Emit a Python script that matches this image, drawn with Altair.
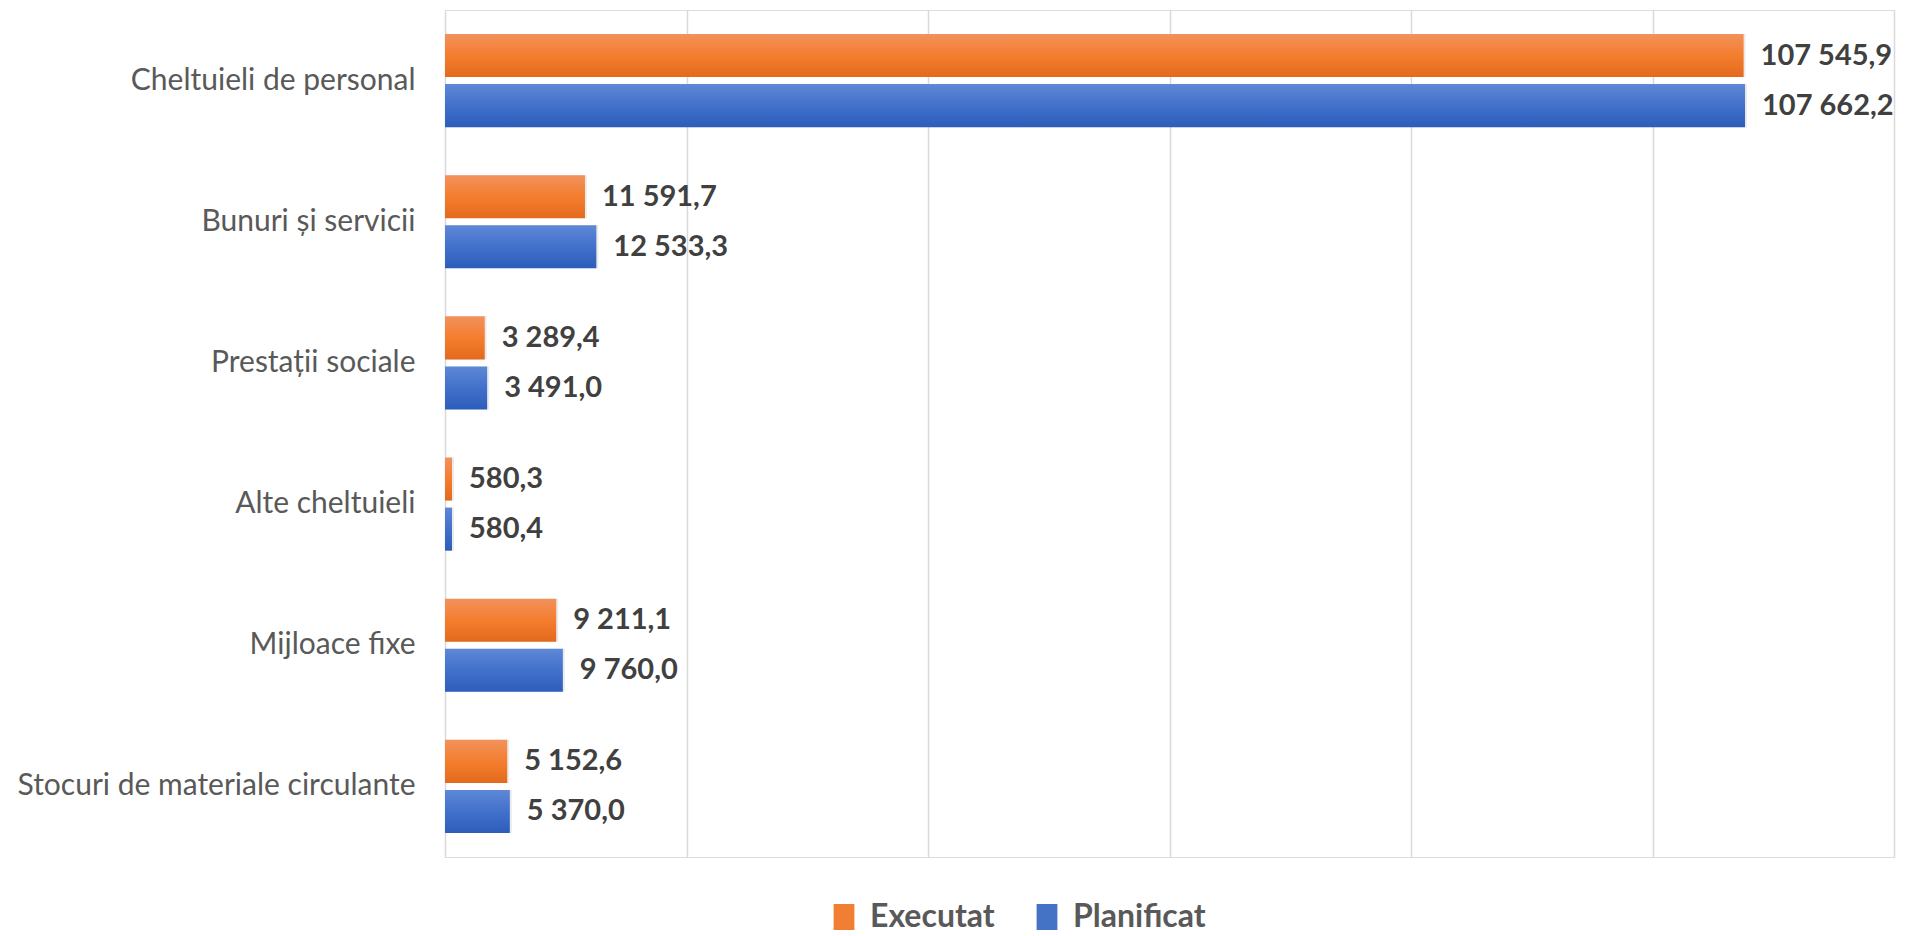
import altair as alt
import pandas as pd

categories = [
    "Cheltuieli de personal",
    "Bunuri și servicii",
    "Prestații sociale",
    "Alte cheltuieli",
    "Mijloace fixe",
    "Stocuri de materiale circulante",
]
executat = [107545.9, 11591.7, 3289.4, 580.3, 9211.1, 5152.6]
planificat = [107662.2, 12533.3, 3491.0, 580.4, 9760.0, 5370.0]
series = ["Executat", "Planificat"]


def fmt(v):
    return f"{v:,.1f}".replace(",", " ").replace(".", ",")


rows = []
for c, e, p in zip(categories, executat, planificat):
    rows.append({"cat": c, "serie": "Executat", "val": e, "label": fmt(e)})
    rows.append({"cat": c, "serie": "Planificat", "val": p, "label": fmt(p)})
df = pd.DataFrame(rows)

orange_grad = alt.Gradient(
    gradient="linear", x1=0, y1=0, x2=0, y2=1,
    stops=[alt.GradientStop(offset=0, color="#F2925C"),
           alt.GradientStop(offset=0.5, color="#F47D2E"),
           alt.GradientStop(offset=1, color="#E36A1C")],
)
blue_grad = alt.Gradient(
    gradient="linear", x1=0, y1=0, x2=0, y2=1,
    stops=[alt.GradientStop(offset=0, color="#5E88D6"),
           alt.GradientStop(offset=0.5, color="#4271CB"),
           alt.GradientStop(offset=1, color="#2D5DBA")],
)

y_enc = alt.Y("cat:N", sort=categories, title=None,
              scale=alt.Scale(paddingInner=0.34, paddingOuter=0.17),
              axis=alt.Axis(labelFont="Lato", labelFontSize=30, labelColor="#595959",
                            labelPadding=30, ticks=False, domain=False, labelLimit=700))
yoff_enc = alt.YOffset("serie:N", sort=series,
                       scale=alt.Scale(domain=series, paddingInner=0.14, paddingOuter=0))
x_enc = alt.X("val:Q", title=None,
              scale=alt.Scale(domain=[0, 120000], nice=False),
              axis=alt.Axis(values=[0, 20000, 40000, 60000, 80000, 100000, 120000],
                            labels=False, ticks=False, domain=False,
                            gridColor="#D9D9D9", gridWidth=1.5))

base = alt.Chart(df)

legend_layer = base.mark_bar(opacity=0).encode(
    x=x_enc, y=y_enc, yOffset=yoff_enc,
    color=alt.Color("serie:N", sort=series,
                    scale=alt.Scale(domain=series, range=["#F07F33", "#4472C4"]),
                    legend=alt.Legend(title=None, orient="none", direction="horizontal",
                                      legendX=383, legendY=891,
                                      symbolType="M-0.8,-1L0.8,-1L0.8,1L-0.8,1Z",
                                      symbolSize=676,
                                      symbolOpacity=1, symbolStrokeWidth=0,
                                      labelFont="Lato", labelFontSize=32,
                                      labelFontWeight="bold", labelColor="#595959",
                                      labelOffset=10, columnPadding=36)),
)

shadow_layer = base.mark_bar(color="#000000", opacity=0.08, xOffset=2, yOffset=3).encode(
    x=x_enc, y=y_enc, yOffset=yoff_enc,
)

exec_layer = base.transform_filter(alt.datum.serie == "Executat").mark_bar(
    fill=orange_grad).encode(x=x_enc, y=y_enc, yOffset=yoff_enc)
plan_layer = base.transform_filter(alt.datum.serie == "Planificat").mark_bar(
    fill=blue_grad).encode(x=x_enc, y=y_enc, yOffset=yoff_enc)

text_layer = base.mark_text(align="left", baseline="middle", dx=17, font="Lato",
                            fontSize=29, fontWeight="bold", color="#404040").encode(
    x=x_enc, y=y_enc, yOffset=yoff_enc, text="label:N")

chart = alt.layer(legend_layer, shadow_layer, exec_layer, plan_layer, text_layer).properties(
    width=1449, height=847,
    autosize=alt.AutoSizeParams(type="none"),
    padding={"left": 437, "top": 2, "right": 4, "bottom": 79},
).configure_view(stroke=None).configure(background="#FFFFFF")

chart.save("out.html", embed_options={"renderer": "svg", "actions": False})
